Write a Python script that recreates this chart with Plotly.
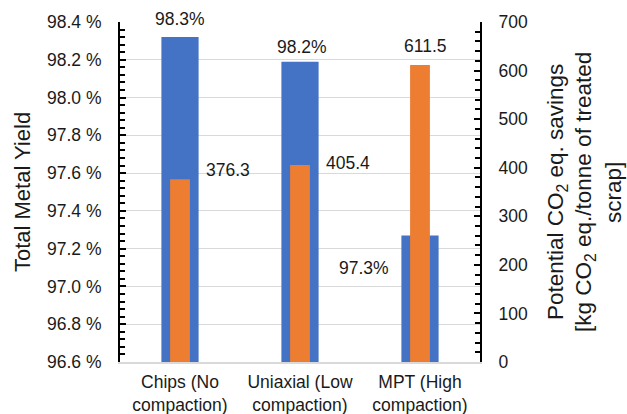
import plotly.graph_objects as go

categories = ["Chips (No<br>compaction)", "Uniaxial (Low<br>compaction)", "MPT (High<br>compaction)"]
metal_yield = [98.32, 98.19, 97.27]          # %
co2_savings = [376.3, 405.4, 611.5]          # kg CO2 eq./tonne
yield_labels = ["98.3%", "98.2%", "97.3%"]
co2_labels = ["376.3", "405.4", "611.5"]
left_title = "Total Metal Yield"
right_title_lines = ["Potential CO<sub>2</sub> eq. savings",
                     "[kg CO<sub>2</sub> eq./tonne of treated",
                     "scrap]"]

BLUE = "#4472C4"
ORANGE = "#ED7D31"
FONT = "Liberation Sans, Arial, sans-serif"
TXT = "#1a1a1a"
FS = 17.5

fig = go.Figure()
fig.add_trace(go.Bar(x=categories, y=metal_yield, width=0.31, marker=dict(color=BLUE, line=dict(width=0)),
                     yaxis="y", name="Total Metal Yield", hoverinfo="x+y"))
fig.add_trace(go.Bar(x=categories, y=co2_savings, width=0.165, marker=dict(color=ORANGE, line=dict(width=0)),
                     yaxis="y2", name="CO2 savings", hoverinfo="x+y"))

# label offsets (pixels) mimicking manually placed data labels
yield_shift = [(0, 18), (2, 15), (-56, -33)]
co2_shift = [(48, 9), (48, 2), (5, 19)]
anns = []
for c, v, t, (dx, dy) in zip(categories, metal_yield, yield_labels, yield_shift):
    anns.append(dict(x=c, y=v, xref="x", yref="y", text=t, showarrow=False,
                     xshift=dx, yshift=dy, font=dict(size=FS, color=TXT, family=FONT)))
for c, v, t, (dx, dy) in zip(categories, co2_savings, co2_labels, co2_shift):
    anns.append(dict(x=c, y=v, xref="x", yref="y2", text=t, showarrow=False,
                     xshift=dx, yshift=dy, font=dict(size=FS, color=TXT, family=FONT)))

anns.append(dict(x=-0.272, y=0.5, xref="paper", yref="paper", textangle=-90,
                 xanchor="center", yanchor="middle",
                 text=left_title, showarrow=False,
                 font=dict(size=22, color=TXT, family=FONT)))
for px, line in zip([1.214, 1.2917, 1.3694], right_title_lines):
    anns.append(dict(x=px, y=0.5, xref="paper", yref="paper", textangle=-90,
                     xanchor="center", yanchor="middle",
                     text=line, showarrow=False, font=dict(size=22.5, color=TXT, family=FONT)))

fig.update_layout(
    width=627, height=414,
    margin=dict(l=120, r=147, t=22, b=52, autoexpand=False),
    paper_bgcolor="white", plot_bgcolor="white",
    barmode="overlay", showlegend=False,
    font=dict(family=FONT, color=TXT, size=FS),
    annotations=anns,
    xaxis=dict(showline=True, linecolor="#d9d9d9", linewidth=2, ticks="", automargin=False,
               tickfont=dict(size=FS, color=TXT), ticklabelstandoff=3),
    yaxis=dict(range=[96.6, 98.4], tick0=96.6, dtick=0.2, tickformat=".1f", ticksuffix=" %",
               automargin=False,
               showgrid=True, gridcolor="#d9d9d9", gridwidth=1,
               showline=True, linecolor="black", linewidth=2,
               ticks="inside", ticklen=6, tickwidth=1.5, tickcolor="black",
               minor=dict(dtick=0.04, tick0=96.6, ticks="inside", ticklen=5, tickwidth=1.5, tickcolor="black", showgrid=False),
               ticklabelstandoff=13, tickfont=dict(size=FS, color=TXT), zeroline=False),
    yaxis2=dict(range=[0, 700], dtick=100, overlaying="y", side="right", anchor="x",
                automargin=False,
                showgrid=False, showline=True, linecolor="black", linewidth=2,
                ticks="inside", ticklen=6, tickwidth=1.5, tickcolor="black",
                minor=dict(dtick=20, ticks="inside", ticklen=5, tickwidth=1.5, tickcolor="black", showgrid=False),
                ticklabelstandoff=13, tickfont=dict(size=FS, color=TXT), zeroline=False),
)

# remove the default page margin so the 627x414 figure fills the window exactly
fig.write_html("out.html",
               config={"displayModeBar": False},
               post_script="document.body.style.margin='0';document.body.style.overflow='hidden';")
